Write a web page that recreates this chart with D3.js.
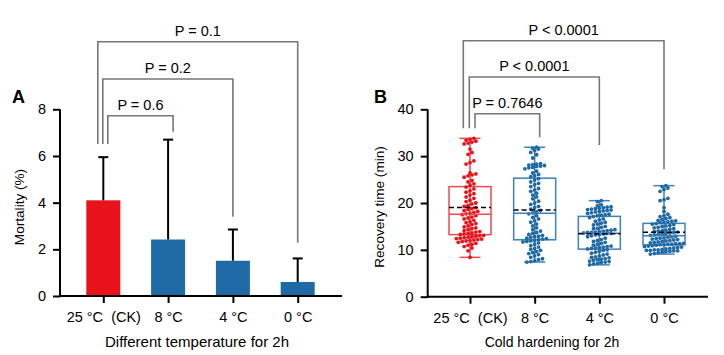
<!DOCTYPE html>
<html>
<head>
<meta charset="utf-8">
<script src="https://cdn.jsdelivr.net/npm/d3@7"></script>
<style>
  html, body { margin: 0; padding: 0; background: #fff; }
  text { font-family: "Liberation Sans", Arial, sans-serif; }
</style>
</head>
<body>
<svg id="chart" width="724" height="355"></svg>
<script>
// ---------------- DATA ----------------
const categories = ["25 °C  (CK)", "8 °C", "4 °C", "0 °C"];
const mortalityMean = [4.1, 2.42, 1.51, 0.6];
const mortalitySD = [1.85, 4.28, 1.34, 1.01];
const yTicksA = [0, 2, 4, 6, 8];
const yTicksB = [0, 10, 20, 30, 40];
const pLabelsA = ["P = 0.6", "P = 0.2", "P = 0.1"];
const pLabelsB = ["P = 0.7646", "P < 0.0001", "P < 0.0001"];
const xTitleA = "Different temperature for 2h";
const xTitleB = "Cold hardening for 2h";
const yTitleA = "Mortality (%)";
const yTitleB = "Recovery time (min)";

const rec25 = [33.8, 33.6, 33.4, 33.2, 33.0, 32.8, 32.6, 31.5, 30.8, 30.4, 29.0, 28.6, 28.3, 26.4, 26.2, 26.0, 25.8, 25.5, 24.8, 24.5, 24.1, 23.8,
  23.4, 23.0, 22.6, 22.3, 22.0, 21.7, 21.3, 21.0, 20.6, 20.3, 20.0, 19.8, 19.5, 19.3, 19.0, 18.8, 18.6, 18.4, 18.2, 18.0, 17.8, 17.7,
  17.5, 17.3, 17.0, 16.8, 16.6, 16.3, 16.0, 15.8, 15.6, 15.4, 15.1, 14.9, 14.7, 14.5, 14.3, 14.1, 13.9, 13.8, 13.6, 13.5, 13.4, 13.3,
  13.1, 13.0, 12.9, 12.8, 12.7, 12.6, 12.5, 12.4, 12.3, 12.2, 12.1, 12.0, 11.9, 11.8, 11.6, 11.4, 11.2, 11.0, 10.7, 10.4, 9.8, 8.4];
const rec8 = [31.9, 31.7, 31.5, 31.2, 30.8, 30.3, 29.6, 28.4, 28.3, 28.2, 28.1, 28.0, 27.9, 27.8, 27.6, 27.5, 27.3, 26.8, 26.4, 26.1, 25.8, 25.6,
  25.2, 24.9, 24.5, 24.2, 23.9, 23.5, 23.1, 22.8, 22.5, 22.1, 21.7, 21.3, 20.9, 20.4, 20.0, 19.7, 19.3, 19.0, 18.7, 18.4, 18.1, 17.9,
  17.7, 17.3, 16.9, 16.6, 16.2, 15.9, 15.5, 15.1, 14.7, 14.3, 14.0, 13.7, 13.5, 13.3, 13.1, 12.9, 12.8, 12.7, 12.5, 12.4, 12.3, 12.2,
  12.0, 11.9, 11.8, 11.7, 11.5, 11.2, 10.9, 10.6, 10.3, 10.1, 9.9, 9.6, 9.4, 9.2, 9.0, 8.7, 8.4, 8.1, 7.9, 7.7, 7.5, 7.4];
const rec4 = [20.5, 20.3, 19.6, 19.4, 19.2, 19.1, 19.0, 18.9, 18.8, 18.7, 18.6, 18.5, 18.4, 18.3, 18.2, 18.1, 17.9, 17.8, 17.6, 17.5, 17.4, 17.3,
  17.1, 16.9, 16.6, 16.4, 16.1, 15.9, 15.7, 15.5, 15.3, 15.0, 14.8, 14.6, 14.5, 14.3, 14.2, 14.1, 14.0, 13.9, 13.8, 13.7, 13.7, 13.6,
  13.5, 13.5, 13.4, 13.3, 13.2, 13.0, 12.8, 12.5, 12.2, 12.0, 11.8, 11.6, 11.4, 11.2, 11.0, 10.8, 10.7, 10.6, 10.5, 10.4, 10.3, 10.2,
  10.0, 9.9, 9.7, 9.5, 9.3, 9.1, 8.9, 8.7, 8.5, 8.4, 8.3, 8.1, 8.0, 7.9, 7.8, 7.6, 7.5, 7.4, 7.3, 7.1, 7.0, 6.8];
const rec0 = [23.7, 23.5, 23.2, 22.9, 22.5, 21.0, 20.7, 20.5, 19.0, 18.2, 17.6, 17.3, 17.1, 16.9, 16.7, 16.5, 16.3, 16.2, 16.1, 16.0, 15.9, 15.8,
  15.6, 15.5, 15.4, 15.2, 15.1, 15.0, 14.8, 14.7, 14.5, 14.4, 14.2, 14.1, 14.0, 13.9, 13.8, 13.7, 13.6, 13.5, 13.4, 13.3, 13.2, 13.1,
  12.9, 12.8, 12.7, 12.6, 12.5, 12.4, 12.3, 12.2, 12.1, 12.0, 11.9, 11.8, 11.7, 11.6, 11.5, 11.4, 11.3, 11.3, 11.2, 11.2, 11.1, 11.1,
  11.0, 10.9, 10.8, 10.7, 10.6, 10.5, 10.4, 10.3, 10.2, 10.1, 10.0, 10.0, 9.9, 9.9, 9.8, 9.8, 9.7, 9.6, 9.5, 9.4, 9.2, 9.1];
const recoverySeries = [rec25, rec8, rec4, rec0];

// ---------------- STYLE ----------------
const RED = "#e8121a", BLUE = "#1f69a5";
const RED_BOX = "#ee4a4f", BLUE_BOX = "#3f80bd";
const GRAY = "#777";
const groupColor = i => i === 0 ? RED : BLUE;

const svg = d3.select("#chart");

function drawAxes(g, x, y, x0, x1, yTicks) {
  const ax = g.append("g").attr("transform", `translate(0,${y.range()[0]})`)
    .call(d3.axisBottom(x).tickSize(7).tickSizeOuter(0).tickPadding(9));
  ax.select(".domain").attr("d", `M${x0},0H${x1}`);
  const ay = g.append("g").attr("transform", `translate(${x0},0)`)
    .call(d3.axisLeft(y).tickValues(yTicks).tickSize(7).tickSizeOuter(0).tickPadding(7).tickFormat(d3.format("d")));
  [ax, ay].forEach(a => {
    a.selectAll("path, line").attr("stroke", "#000").attr("stroke-width", 2);
    a.selectAll("text").attr("font-size", 14.5).attr("fill", "#000").style("white-space", "pre");
  });
  ay.select(".domain").attr("d", `M0,${y.range()[0] + 1}V${y.range()[1]}`);
}

function bracket(g, xl, xr, top, yl, yr, label) {
  g.append("path")
    .attr("d", `M${xl},${yl}V${top}H${xr}V${yr}`)
    .attr("fill", "none").attr("stroke", GRAY).attr("stroke-width", 1.6);
  g.append("text").attr("x", (xl + xr) / 2).attr("y", top - 6)
    .attr("text-anchor", "middle").attr("font-size", 14.5).text(label);
}

// ---------------- PANEL A ----------------
{
  const g = svg.append("g");
  const y = d3.scaleLinear().domain([0, 8]).range([296, 109.3]);
  const x = d3.scalePoint().domain(categories).range([103.3, 297.7]);
  const bw = 34;

  g.selectAll("rect.bar").data(categories).join("rect")
    .attr("x", d => x(d) - bw / 2).attr("width", bw)
    .attr("y", (d, i) => y(mortalityMean[i]))
    .attr("height", (d, i) => y(0) - y(mortalityMean[i]))
    .attr("fill", (d, i) => groupColor(i));
  categories.forEach((c, i) => {
    const top = y(mortalityMean[i] + mortalitySD[i]);
    g.append("line").attr("x1", x(c)).attr("x2", x(c))
      .attr("y1", y(mortalityMean[i])).attr("y2", top)
      .attr("stroke", "#000").attr("stroke-width", 2);
    g.append("line").attr("x1", x(c) - 5).attr("x2", x(c) + 5)
      .attr("y1", top).attr("y2", top).attr("stroke", "#000").attr("stroke-width", 2);
  });
  drawAxes(g, x, y, 60, 342, yTicksA);

  const c0 = x(categories[0]);
  bracket(g, c0 + 4.5, x(categories[1]) + 5, 115.7, 144, 131.7, pLabelsA[0]);
  bracket(g, c0 - 0.5, x(categories[2]), 79, 144, 216.7, pLabelsA[1]);
  bracket(g, c0 - 5.5, x(categories[3]), 41.7, 144, 242.7, pLabelsA[2]);

  g.append("text").attr("x", 12).attr("y", 103).attr("font-size", 18).attr("font-weight", "bold").text("A");
  g.append("text").attr("transform", "translate(24,207) rotate(-90)").attr("text-anchor", "middle")
    .attr("font-size", 13.6).text(yTitleA);
  g.append("text").attr("x", 197).attr("y", 347).attr("text-anchor", "middle")
    .attr("font-size", 15).text(xTitleA);
}

// ---------------- PANEL B ----------------
{
  const g = svg.append("g");
  const y = d3.scaleLinear().domain([0, 40]).range([296.7, 109.3]);
  const x = d3.scalePoint().domain(categories).range([470, 664]);
  const boxW = 42, capW = 21, r = 1.9, dx = 3.9, rowH = 3.5;

  recoverySeries.forEach((vals, i) => {
    const cx = x(categories[i]);
    const s = vals.slice().sort(d3.ascending);
    const q1 = d3.quantile(s, 0.25), med = d3.quantile(s, 0.5), q3 = d3.quantile(s, 0.75);
    const mn = d3.min(s), mx = d3.max(s), mean = d3.mean(s);
    const boxC = i === 0 ? RED_BOX : BLUE_BOX;

    g.append("line").attr("x1", cx).attr("x2", cx).attr("y1", y(mn)).attr("y2", y(mx))
      .attr("stroke", boxC).attr("stroke-width", 1.5);
    [mn, mx].forEach(v => g.append("line").attr("x1", cx - capW / 2).attr("x2", cx + capW / 2)
      .attr("y1", y(v)).attr("y2", y(v)).attr("stroke", boxC).attr("stroke-width", 1.5));
    g.append("rect").attr("x", cx - boxW / 2).attr("width", boxW)
      .attr("y", y(q3)).attr("height", y(q1) - y(q3))
      .attr("fill", "none").attr("stroke", boxC).attr("stroke-width", 1.5);

    const rows = [];
    let cur = null;
    s.forEach(v => {
      const py = y(v);
      if (!cur || cur.y0 - py > rowH) { cur = { y0: py, pts: [] }; rows.push(cur); }
      cur.pts.push(v);
    });
    const pts = [];
    rows.forEach(row => {
      const k = row.pts.length;
      row.pts.forEach((v, j) => pts.push({ v, ox: (j - (k - 1) / 2) * dx }));
    });
    g.selectAll(null).data(pts).join("circle")
      .attr("cx", d => cx + d.ox).attr("cy", d => y(d.v)).attr("r", r)
      .attr("fill", groupColor(i));

    g.append("line").attr("x1", cx - boxW / 2).attr("x2", cx + boxW / 2)
      .attr("y1", y(med)).attr("y2", y(med)).attr("stroke", boxC).attr("stroke-width", 1.5);
    g.append("line").attr("x1", cx - boxW / 2).attr("x2", cx + boxW / 2)
      .attr("y1", y(mean)).attr("y2", y(mean)).attr("stroke", "#000").attr("stroke-width", 1.5)
      .attr("stroke-dasharray", "5,3");
  });
  drawAxes(g, x, y, 427.7, 708, yTicksB);

  const c0 = x(categories[0]);
  bracket(g, c0 + 5, x(categories[1]) + 5, 113.7, 128.3, 137.3, pLabelsB[0]);
  bracket(g, c0 - 0.7, x(categories[2]), 77, 128.3, 145, pLabelsB[1]);
  bracket(g, c0 - 6.7, x(categories[3]), 40.7, 128.3, 169.3, pLabelsB[2]);

  g.append("text").attr("x", 374).attr("y", 103).attr("font-size", 18).attr("font-weight", "bold").text("B");
  g.append("text").attr("transform", "translate(384,207) rotate(-90)").attr("text-anchor", "middle")
    .attr("font-size", 13.6).text(yTitleB);
  g.append("text").attr("x", 552).attr("y", 347).attr("text-anchor", "middle")
    .attr("font-size", 14).text(xTitleB);
}
</script>
</body>
</html>
